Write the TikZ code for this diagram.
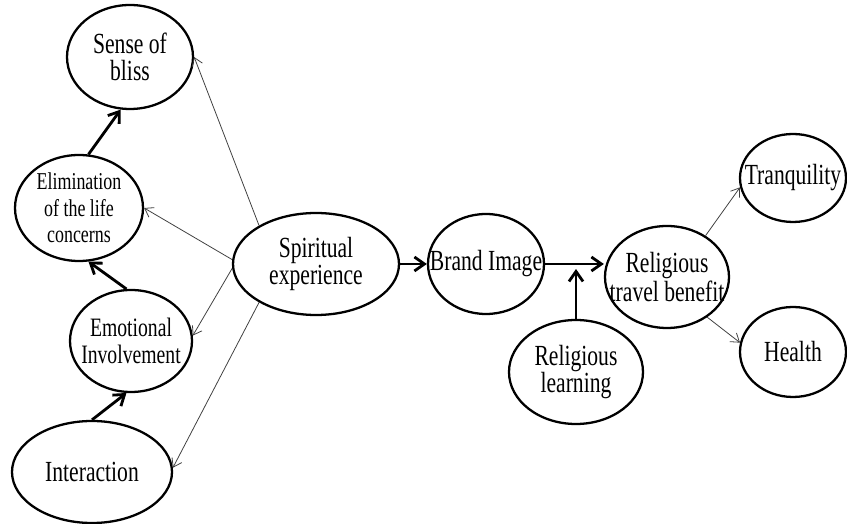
\documentclass[tikz,border=0pt]{standalone}
\usepackage{fontspec}
\setmainfont{Liberation Serif}
\usetikzlibrary{shapes.geometric,arrows.meta,positioning}

\tikzset{
  txt/.style={align=center, inner sep=0pt, yscale=1.35, transform shape},
  concept/.style 2 args={ellipse, draw, line width=1.3pt, inner sep=0pt,
    label={[txt, font=\fontsize{#1}{11.2}\selectfont]center:{#2}}},
  strong/.style={-{Straight Barb[length=2mm,width=2.8mm]}, line width=1.6pt},
  weak/.style={-{Straight Barb[length=1.6mm,width=2.2mm]}, line width=0.45pt, draw=black!75}
}

\begin{document}
\begin{tikzpicture}
	 \useasboundingbox (0,0) rectangle (16.94,10.48);
	 \node [concept={12.3}{Sense of\\bliss}, minimum width=2.52cm, minimum height=2.08cm] (bliss) at (2.6,9.34) {};
	 \node [concept={10.2}{Elimination\\of the life\\concerns}, minimum width=2.56cm, minimum height=2.12cm] (elim) at (1.58,6.32) {};
	 \node [concept={11.2}{Emotional\\Involvement}, minimum width=2.44cm, minimum height=2.04cm] (emot) at (2.62,3.66) {};
	 \node [concept={12.3}{Interaction}, minimum width=3.2cm, minimum height=2.04cm] (inter) at (1.84,1.04) {};
	 \node [concept={12.3}{Spiritual\\experience}, minimum width=3.32cm, minimum height=2.04cm] (spirit) at (6.32,5.2) {};
	 \node [concept={12.3}{Brand Image}, minimum width=2.32cm, minimum height=2cm, right=3.4cm of spirit.center, anchor=center] (brand) {};
	 \node [concept={12.3}{Religious\\travel benefit}, minimum width=2.48cm, minimum height=2.04cm] (benefit) at (13.34,4.94) {};
	 \node [concept={12.3}{Religious\\learning}, minimum width=2.68cm, minimum height=2.08cm] (learn) at (11.52,3.04) {};
	 \node [concept={12.3}{Tranquility}, minimum width=2.12cm, minimum height=1.76cm] (tranq) at (15.86,6.92) {};
	 \node [concept={12.3}{Health}, minimum width=2.12cm, minimum height=1.8cm, below=3.48cm of tranq.center, anchor=center] (health) {};

	 % left chain
	 \draw [strong] (inter.north) -- (emot.265);
	 \draw [strong] (emot.95) -- (elim.280);
	 \draw [strong] (elim.80) -- (bliss.260);
	 \draw [weak] (spirit.146) -- (bliss.east);
	 \draw [weak] (spirit.177) -- (elim.east);
	 \draw [weak] (spirit.183) -- (emot.5);
	 \draw [weak] (spirit.214) -- (inter.3);

	 % main path
	 \draw [strong] (spirit.east) -- (brand.west);
	 \draw [strong] (brand.east) -- (benefit.west |- brand.east);
	 \draw [strong] (learn.north) -- ([yshift=-1mm]learn.north |- brand.east);
	 \draw [weak] (benefit.47) -- (tranq.190);
	 \draw [weak] (benefit.-45) -- (health.170);
 \end{tikzpicture}
\end{document}
